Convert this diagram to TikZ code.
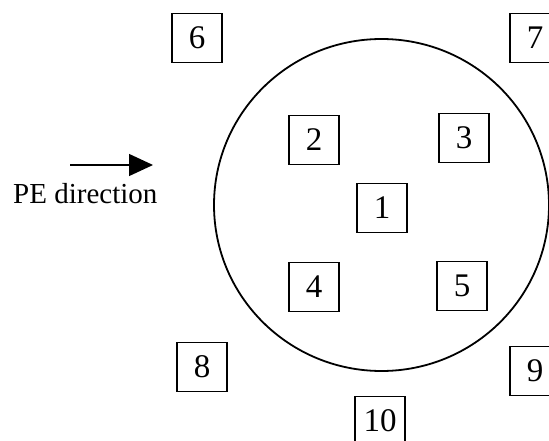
\documentclass[tikz,border=0pt]{standalone}
\usepackage{fontspec}
\setmainfont{Liberation Serif}
\usetikzlibrary{arrows.meta}
\begin{document}
\begin{tikzpicture}[x=1pt,y=-1pt,
  numbox/.style={draw, line width=1.4pt, minimum width=50pt, minimum height=49pt, inner sep=0pt, font=\fontsize{33}{33}\selectfont},
  outline/.style={draw, line width=1.8pt}]
\useasboundingbox (0,0) rectangle (549,441);
\clip (0,0) rectangle (549,441);
\draw[outline] (381.5,205) ellipse [x radius=167.5, y radius=166];
\node[numbox] (n6) at (197,38) {6};
\node[numbox] (n7) at (535,38) {7};
\node[numbox] (n2) at (314,140) {2};
\node[numbox] (n3) at (464,138) {3};
\node[numbox] (n1) at (382,208) {1};
\node[numbox] (n4) at (314,287) {4};
\node[numbox] (n5) at (462,286) {5};
\node[numbox] (n8) at (202,367) {8};
\node[numbox] (n9) at (535,371) {9};
\node[numbox] (n10) at (380,421) {10};
\coordinate (a0) at (70,165);
\coordinate (a1) at (153,165);
\draw[line width=1.3pt, -{Triangle[length=24pt,width=22pt]}] (a0) -- (a1);
\node[font=\fontsize{29}{29}\selectfont, anchor=base west, inner sep=0pt] (pe) at (13,203) {PE direction};
\end{tikzpicture}
\end{document}
